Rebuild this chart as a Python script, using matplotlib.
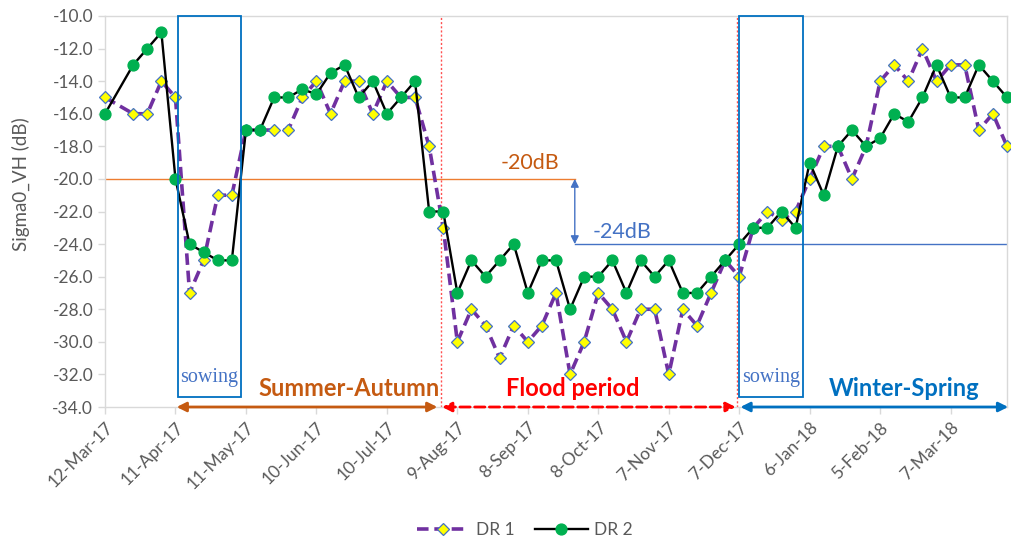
import matplotlib
matplotlib.use("Agg")
import matplotlib.pyplot as plt
import matplotlib.dates as mdates
import pandas as pd
import numpy as np

dates = ["2017-03-12", "2017-03-24", "2017-03-30", "2017-04-05", "2017-04-11", "2017-04-17",
         "2017-04-23", "2017-04-29", "2017-05-05", "2017-05-11", "2017-05-17", "2017-05-23",
         "2017-05-29", "2017-06-04", "2017-06-10", "2017-06-16", "2017-06-22", "2017-06-28",
         "2017-07-04", "2017-07-10", "2017-07-16", "2017-07-22", "2017-07-28", "2017-08-03",
         "2017-08-09", "2017-08-15", "2017-08-21", "2017-08-27", "2017-09-02", "2017-09-08",
         "2017-09-14", "2017-09-20", "2017-09-26", "2017-10-02", "2017-10-08", "2017-10-14",
         "2017-10-20", "2017-10-26", "2017-11-01", "2017-11-07", "2017-11-13", "2017-11-19",
         "2017-11-25", "2017-12-01", "2017-12-07", "2017-12-13", "2017-12-19", "2017-12-25",
         "2017-12-31", "2018-01-06", "2018-01-12", "2018-01-18", "2018-01-24", "2018-01-30",
         "2018-02-05", "2018-02-11", "2018-02-17", "2018-02-23", "2018-03-01", "2018-03-07",
         "2018-03-13", "2018-03-19", "2018-03-25", "2018-03-31"]

dr1 = [-15, -16, -16, -14, -15, -27, -25, -21, -21, -17, -17, -17, -17, -15, -14, -16,
       -14, -14, -16, -14, -15, -15, -18, -23, -30, -28, -29, -31, -29, -30, -29, -27,
       -32, -30, -27, -28, -30, -28, -28, -32, -28, -29, -27, -25, -26, -23, -22, -22.5,
       -22, -20, -18, -18, -20, -18, -14, -13, -14, -12, -14, -13, -13, -17, -16, -18]

dr2 = [-16, -13, -12, -11, -20, -24, -24.5, -25, -25, -17, -17, -15, -15, -14.5, -14.8, -13.5,
       -13, -15, -14, -16, -15, -14, -22, -22, -27, -25, -26, -25, -24, -27, -25, -25,
       -28, -26, -26, -25, -27, -25, -26, -25, -27, -27, -26, -25, -24, -23, -23, -22,
       -23, -19, -21, -18, -17, -18, -17.5, -16, -16.5, -15, -13, -15, -15, -13, -14, -15]

tick_dates = ["2017-03-12", "2017-04-11", "2017-05-11", "2017-06-10", "2017-07-10",
              "2017-08-09", "2017-09-08", "2017-10-08", "2017-11-07", "2017-12-07",
              "2018-01-06", "2018-02-05", "2018-03-07"]

flood_start = "2017-08-02"
flood_end = "2017-12-06"
sowing1 = ("2017-04-12", "2017-05-09")
sowing2 = ("2017-12-07", "2018-01-03")
thr_high = -20
thr_low = -24
thr_split = "2017-09-28"

x = pd.to_datetime(dates)
d = lambda s: mdates.date2num(pd.Timestamp(s))

plt.rcParams['font.family'] = ['Lato', 'DejaVu Sans']
fig = plt.figure(figsize=(10.11, 5.42), dpi=100)
ax = fig.add_axes([105/1011, 1-407/542, (1007-105)/1011, (407-16)/542])

ax.plot(x, dr1, color='#7030A0', lw=2.6, ls=(0, (3.2, 1.6)), marker='D', ms=6.3,
        mfc='#FFFF00', mec='#4472C4', mew=0.9, label='DR 1', zorder=4, clip_on=False)
ax.plot(x, dr2, color='black', lw=1.7, marker='o', ms=7.8, mfc='#00B050', mec='#00B050',
        label='DR 2', zorder=5, clip_on=False)

x0 = d("2017-03-12")
x1 = d("2018-03-31")
ax.set_xlim(x0, x1)
ax.set_ylim(-34, -10)
ax.set_yticks(np.arange(-34, -9, 2))
ax.yaxis.set_major_formatter(matplotlib.ticker.FormatStrFormatter('%.1f'))
ax.set_xticks(pd.to_datetime(tick_dates))
ax.xaxis.set_major_formatter(mdates.DateFormatter('%-d-%b-%y'))
for lab in ax.get_xticklabels():
    lab.set_rotation(45)
    lab.set_ha('right')
    lab.set_rotation_mode('anchor')
ax.tick_params(axis='both', colors='#D9D9D9', labelcolor='#595959', labelsize=12.5, length=5, width=1)
ax.tick_params(axis='x', pad=4)
for s in ax.spines.values():
    s.set_color('#D9D9D9')
    s.set_linewidth(1)
ax.set_ylabel('Sigma0_VH (dB)', color='#595959', fontsize=13.5)
ax.yaxis.set_label_coords(-0.083, 0.57)

# threshold lines
xs = d(thr_split)
ax.plot([x0, xs], [thr_high, thr_high], color='#ED7D31', lw=1, zorder=2)
ax.plot([xs, x1], [thr_low, thr_low], color='#4472C4', lw=1, zorder=2)
ax.annotate('', xy=(xs, thr_low), xytext=(xs, thr_high),
            arrowprops=dict(arrowstyle='<|-|>', color='#4472C4', lw=1, mutation_scale=12,
                            shrinkA=0, shrinkB=0), zorder=3)
ax.text(d("2017-09-09"), -19.0, '-20dB', color='#C55A11', fontsize=15.5, ha='center', va='center')
ax.text(d("2017-10-18"), -23.25, '-24dB', color='#4472C4', fontsize=15.5, ha='center', va='center')

# flood lines
for fd in (flood_start, flood_end):
    ax.plot([d(fd), d(fd)], [-34, -10], color='#FF5050', lw=1, ls=(0, (1.5, 1.5)), zorder=2)

# sowing boxes
for a, b in (sowing1, sowing2):
    ax.add_patch(plt.Rectangle((d(a), -33.4), d(b)-d(a), 23.4, fill=False,
                               ec='#0070C0', lw=1.3, zorder=6, clip_on=False))
    ax.text((d(a)+d(b))/2, -32.2, 'sowing', family='Liberation Serif', color='#4472C4',
            fontsize=14.5, ha='center', va='center', zorder=7)

# period arrows
ya = -34
def arr(a, b, col, ls='-'):
    ax.annotate('', xy=(b, ya), xytext=(a, ya), annotation_clip=False,
                arrowprops=dict(arrowstyle='<|-|>', color=col, lw=2, ls=ls, mutation_scale=14,
                                shrinkA=0, shrinkB=0), zorder=8)
arr(d(sowing1[0]) - 0.5, d(flood_start) - 1.5, '#C55A11')
arr(d(flood_start) + 0.5, d(flood_end) - 0.5, '#FF0000', ls='--')
arr(d(flood_end) + 1.5, x1 + 0.5, '#0070C0')

ax.text(d("2017-06-24"), -32.85, 'Summer-Autumn', color='#C55A11', fontsize=17,
        fontweight='bold', ha='center', va='center')
ax.text(d("2017-09-27"), -32.85, 'Flood period', color='#FF0000', fontsize=17,
        fontweight='bold', ha='center', va='center')
ax.text(d("2018-02-15"), -32.85, 'Winter-Spring', color='#0070C0', fontsize=17,
        fontweight='bold', ha='center', va='center')

fig.legend(loc='center', bbox_to_anchor=(525/1011, 1-530/542), ncol=2, frameon=False,
           fontsize=12.5, labelcolor='#595959', handlelength=3, columnspacing=1.2, handletextpad=0.4)

fig.savefig('out.png', dpi=100)
